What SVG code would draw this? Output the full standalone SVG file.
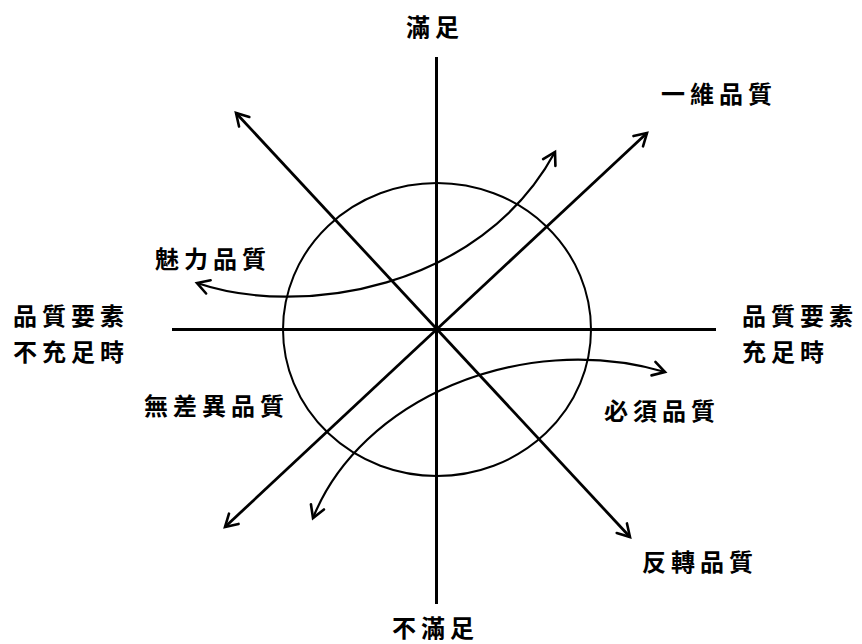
<svg xmlns="http://www.w3.org/2000/svg" width="862" height="644" viewBox="0 0 862 644">
<style>
  .lbl { font-family: "Noto Sans CJK TC", "Noto Sans CJK SC", sans-serif; font-size: 24px; letter-spacing: 5px; fill: #000; font-weight: bold; }
  .axis { stroke: #000; stroke-width: 3; fill: none; }
  .diag { stroke: #000; stroke-width: 2.8; fill: none; marker-start: url(#arr); marker-end: url(#arr); }
  .curve { stroke: #000; stroke-width: 2.2; fill: none; marker-start: url(#arr); marker-end: url(#arr); }
  .ring { stroke: #000; stroke-width: 2; fill: none; }
</style>
<defs>
  <marker id="arr" markerUnits="userSpaceOnUse" markerWidth="20" markerHeight="20" viewBox="0 0 20 20" refX="16" refY="10" orient="auto-start-reverse">
    <path d="M4,3 L16,10 L4,17" fill="none" stroke="#000" stroke-width="2.6" stroke-linecap="round" stroke-linejoin="miter"/>
  </marker>
</defs>
<rect width="862" height="644" fill="#fff"/>
<g id="connectors">
  <line class="axis" x1="436.5" y1="57" x2="436.5" y2="604"/>
  <line class="axis" x1="172" y1="329.5" x2="716" y2="329.5"/>
  <ellipse class="ring" cx="437" cy="329.5" rx="154" ry="146.5"/>
  <line class="diag" x1="236" y1="113" x2="630" y2="537"/>
  <line class="diag" x1="225" y1="527" x2="647" y2="133"/>
  <path class="curve" d="M197,283 C300,318 480,290 555,152"/>
  <path class="curve" d="M313,518 C360,400 520,330 665,372"/>
</g>
<g id="satisfied"><text class="lbl" x="406" y="36">滿足</text></g>
<g id="dissatisfied"><text class="lbl" x="392" y="637">不滿足</text></g>
<g id="insufficient"><text class="lbl" x="13" y="325">品質要素</text><text class="lbl" x="13" y="361">不充足時</text></g>
<g id="sufficient"><text class="lbl" x="742" y="325">品質要素</text><text class="lbl" x="742" y="361">充足時</text></g>
<g id="one-dimensional"><text class="lbl" x="661" y="103">一維品質</text></g>
<g id="attractive"><text class="lbl" x="155" y="268">魅力品質</text></g>
<g id="indifferent"><text class="lbl" x="144" y="415">無差異品質</text></g>
<g id="must-be"><text class="lbl" x="604" y="420">必須品質</text></g>
<g id="reverse"><text class="lbl" x="642" y="571">反轉品質</text></g>
</svg>
